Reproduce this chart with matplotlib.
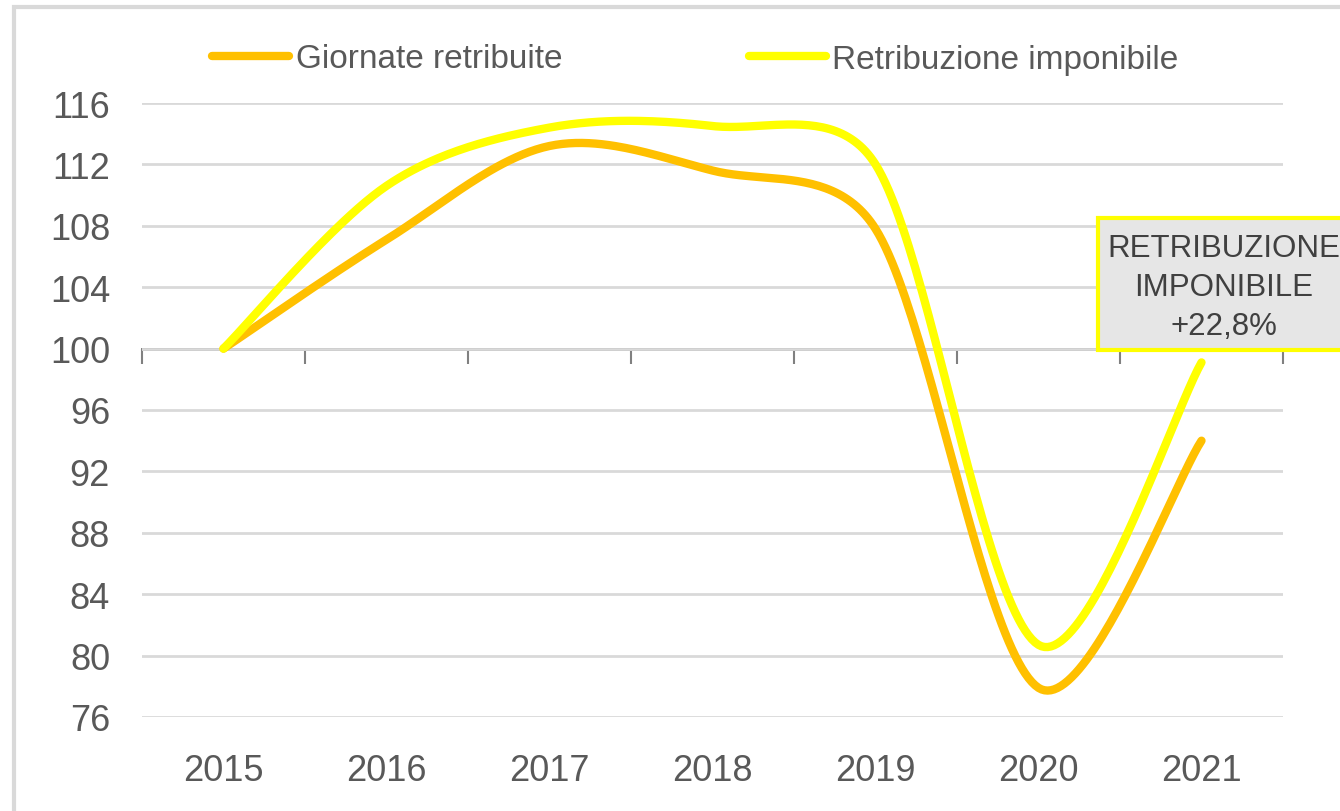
import matplotlib.pyplot as plt
import numpy as np
from matplotlib.patches import Rectangle

# dati (indice 2015 = 100)
anni = ["2015", "2016", "2017", "2018", "2019", "2020", "2021"]
giornate = [100, 107.1, 113.2, 111.6, 107.8, 77.9, 94.0]
retribuzione = [100, 110.6, 114.4, 114.5, 112.0, 80.7, 99.1]
etichetta_box = "RETRIBUZIONE\nIMPONIBILE\n+22,8%"

plt.rcParams['font.family'] = ['Liberation Sans', 'DejaVu Sans']

def smooth(x, y, sx, sy, n=50):
    # curva smussata tipo Excel: Bezier, punti di controllo ridotti sui segmenti corti
    p = np.column_stack([np.asarray(x, float) * sx, np.asarray(y, float) * sy])
    p = np.vstack([p[0], p, p[-1]])
    t = np.linspace(0, 1, n)[:, None]
    out = []
    for i in range(1, len(p) - 2):
        a, b = p[i], p[i + 1]
        d0 = np.linalg.norm(p[i] - p[i - 1])
        d1 = np.linalg.norm(b - a)
        d2 = np.linalg.norm(p[i + 2] - b)
        k1 = min(1.0, 2 * d1 / (d0 + d1)) ** 0.5 if d0 > 0 else 1
        k2 = min(1.0, 2 * d1 / (d1 + d2)) ** 0.5 if d2 > 0 else 1
        c1 = a + (b - p[i - 1]) / 6 * k1
        c2 = b - (p[i + 2] - a) / 6 * k2
        seg = (1 - t) ** 3 * a + 3 * (1 - t) ** 2 * t * c1 + 3 * (1 - t) * t ** 2 * c2 + t ** 3 * b
        out.append(seg)
    out = np.vstack(out)
    return out[:, 0] / sx, out[:, 1] / sy

fig = plt.figure(figsize=(13.4, 8.12), dpi=100)
ax = fig.add_axes([142 / 1340, 1 - 718 / 812, 1141 / 1340, 614 / 812])

ax.set_xlim(-0.5, len(anni) - 0.5)
ax.set_ylim(76, 116)

# scala in pixel per lo smoothing
bb = ax.get_window_extent()
sx = bb.width / len(anni)
sy = bb.height / 40

x = np.arange(len(anni))
xg, yg = smooth(x, giornate, sx, sy)
xr, yr = smooth(x, retribuzione, sx, sy)

ax.plot(xg, yg, color='#FFC000', lw=6, solid_capstyle='round', label='Giornate retribuite', zorder=3)
ax.plot(xr, yr, color='#FFFF00', lw=6, solid_capstyle='round', label='Retribuzione imponibile', zorder=4)

ax.set_yticks(np.arange(76, 117, 4))
ax.tick_params(axis='y', length=0, pad=23, labelsize=26, labelcolor='#595959')
ax.set_xticks(x)
ax.set_xticklabels(anni)
ax.tick_params(axis='x', length=0, pad=26, labelsize=26, labelcolor='#595959')
ax.grid(axis='y', color='#d9d9d9', lw=2)
ax.set_axisbelow(True)
for s in ax.spines.values():
    s.set_visible(False)

# asse orizzontale a quota 100 con tacche tra le categorie
sec = ax.secondary_xaxis((100 - 76) / 40)
sec.set_xticks(np.arange(-0.5, len(anni), 1))
sec.set_xticklabels([])
sec.tick_params(axis='x', direction='in', length=11, width=1.5, color='#808080')
for k, s in sec.spines.items():
    s.set_color('#808080')
    s.set_linewidth(2)
    s.set_visible(k in ('top', 'bottom'))

leg = fig.legend(loc='center', bbox_to_anchor=(0.519, 1 - 60 / 812), ncol=2, frameon=False,
                 fontsize=24, handlelength=2.3, handletextpad=0.2, columnspacing=5.6,
                 labelcolor='#595959')

# box etichetta
fig.patches.append(Rectangle((1098 / 1340, 1 - 351 / 812), 300 / 1340, 132 / 812,
                             transform=fig.transFigure, fc='#e6e6e6', ec='#FFFF00', lw=3, zorder=6))
fig.text(1224 / 1340, 1 - 288 / 812, etichetta_box, ha='center', va='center', fontsize=22.5,
         color='#404040', linespacing=1.38, zorder=7)

# cornice del grafico
fig.patches.append(Rectangle((14 / 1340, -0.1), 1.2, 1 - 8 / 812 + 0.1, transform=fig.transFigure,
                             fill=False, ec='#d9d9d9', lw=3))

fig.savefig('out.png', dpi=100)
